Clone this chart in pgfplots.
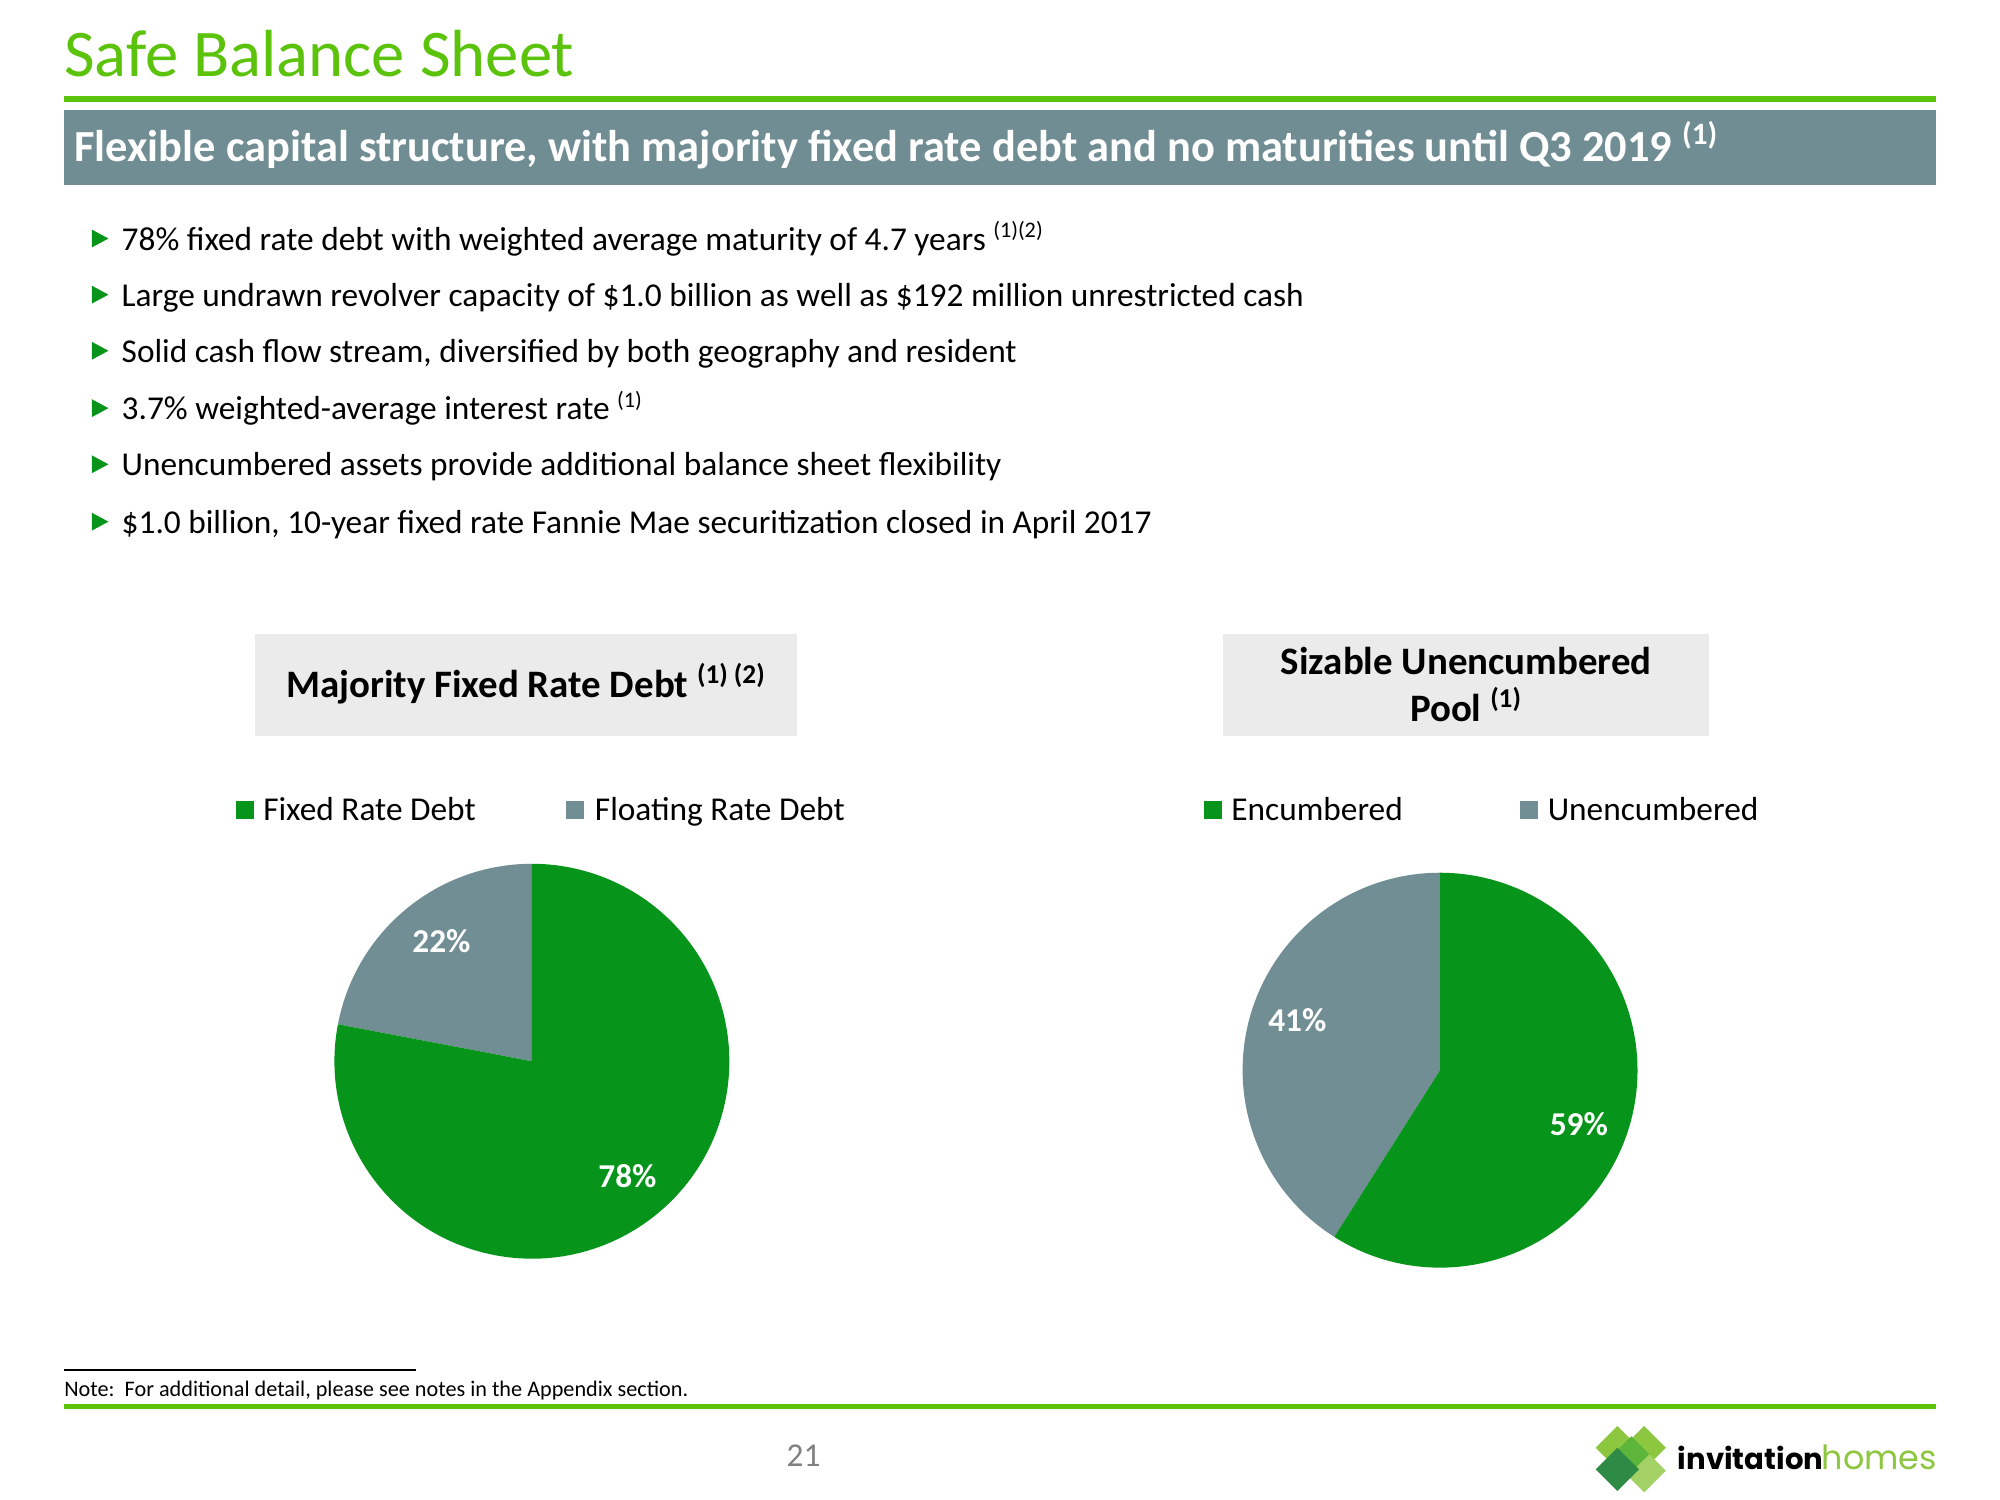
\documentclass[border=0pt]{standalone}
\usepackage{pgfplots}
\pgfplotsset{compat=1.18}
\usepackage{pgfplotstable}
\usepackage{fontspec}
\setmainfont{Carlito}
\newfontfamily\logofont{Poppins}
\definecolor{lime}{HTML}{5CC30C}
\definecolor{banner}{HTML}{708D93}
\definecolor{pgreen}{HTML}{06941A}
\definecolor{pgray}{HTML}{718E94}
\definecolor{boxgray}{HTML}{EBEBEB}
\definecolor{lgA}{HTML}{8DC63F}
\definecolor{lgB}{HTML}{5DB53A}
\definecolor{lgC}{HTML}{2E8B45}

\pgfplotstableread{
label value
Fixed 78
Floating 22
}\debt
\pgfplotstableread{
label value
Encumbered 59
Unencumbered 41
}\pool

% draw a two-slice pie: first slice green, second gray (gray starts at 12 o'clock, counter-clockwise)
\newcommand{\twopie}[1]{%
  \pgfplotstablegetelem{1}{value}\of#1\pgfmathsetmacro\gA{90+3.6*\pgfplotsretval}%
  \fill[pgray] (axis cs:0,0) -- (axis cs:0,1) arc[start angle=90, end angle=\gA, radius=71.08pt] -- cycle;
  \fill[pgreen] (axis cs:0,0) -- (axis cs:{cos(\gA)},{sin(\gA)}) arc[start angle=\gA, end angle=450, radius=71.08pt] -- cycle;
}

\begin{document}
\begin{tikzpicture}
\begin{scope}[x=0.459184pt,y=-0.459184pt]
\fill[white] (0,0) rectangle (1568,1176);
\path[use as bounding box] (0,0) rectangle (1568,1176);
% title
\node[anchor=base west, inner sep=0, text=lime, font=\fontsize{24}{28}\selectfont] at (50,60) {Safe Balance Sheet};
\fill[lime] (50,75) rectangle (1518,80);
\fill[banner] (50,86) rectangle (1518,145);
\node[anchor=base west, inner sep=0, text=white, font=\fontsize{16}{19}\selectfont\bfseries] at (58,127) {Flexible capital structure, with majority fixed rate debt and no maturities until Q3 2019 \textsuperscript{(1)}};
% bullets
\foreach \yy/\txt in {196/{78\% fixed rate debt with weighted average maturity of 4.7 years \textsuperscript{(1)(2)}},
  240/{Large undrawn revolver capacity of \$1.0 billion as well as \$192 million unrestricted cash},
  284/{Solid cash flow stream, diversified by both geography and resident},
  329/{3.7\% weighted-average interest rate \textsuperscript{(1)}},
  373/{Unencumbered assets provide additional balance sheet flexibility},
  418/{\$1.0 billion, 10-year fixed rate Fannie Mae securitization closed in April 2017}}{
  \fill[pgreen] (72,\yy-16) -- (85,\yy-9) -- (72,\yy-2) -- cycle;
  \node[anchor=base west, inner sep=0, font=\fontsize{12}{14}\selectfont] at (95,\yy) {\txt};
}
% chart title boxes
\fill[boxgray] (200,497) rectangle (625,577);
\node[anchor=base, inner sep=0, font=\fontsize{14}{17}\selectfont\bfseries] at (412.5,547) {Majority Fixed Rate Debt \textsuperscript{(1) (2)}};
\fill[boxgray] (959,497) rectangle (1340,577);
\node[anchor=base, inner sep=0, font=\fontsize{14}{17}\selectfont\bfseries] at (1149.5,529) {Sizable Unencumbered};
\node[anchor=base, inner sep=0, font=\fontsize{14}{17}\selectfont\bfseries] at (1149.5,566) {Pool \textsuperscript{(1)}};
% legends
\fill[pgreen] (185,628) rectangle (199,642);
\node[anchor=base west, inner sep=0, font=\fontsize{12}{14}\selectfont] at (206,643) {Fixed Rate Debt};
\fill[pgray] (444,628) rectangle (458,642);
\node[anchor=base west, inner sep=0, font=\fontsize{12}{14}\selectfont] at (466,643) {Floating Rate Debt};
\fill[pgreen] (944,628) rectangle (958,642);
\node[anchor=base west, inner sep=0, font=\fontsize{12}{14}\selectfont] at (965,643) {Encumbered};
\fill[pgray] (1192,628) rectangle (1206,642);
\node[anchor=base west, inner sep=0, font=\fontsize{12}{14}\selectfont] at (1213,643) {Unencumbered};
% footer
\draw[black, line width=0.5pt] (50,1074) -- (326,1074);
\node[anchor=base west, inner sep=0, font=\fontsize{8}{10}\selectfont] at (50,1095) {Note:\ \ For additional detail, please see notes in the Appendix section.};
\fill[lime] (50,1101) rectangle (1518,1105);
\node[anchor=base, inner sep=0, text=gray, font=\fontsize{12}{14}\selectfont] at (630,1150) {21};
% logo
\fill[lgA] (1268,1118) -- (1285,1135) -- (1268,1152) -- (1251,1135) -- cycle;
\fill[lgA] (1289,1118) -- (1306,1135) -- (1289,1152) -- (1272,1135) -- cycle;
\fill[lgA!80!white] (1289,1136) -- (1306,1153) -- (1289,1170) -- (1272,1153) -- cycle;
\fill[lgB] (1279,1126) -- (1293,1140) -- (1279,1154) -- (1265,1140) -- cycle;
\fill[lgC] (1268,1135) -- (1285,1152) -- (1268,1169) -- (1251,1152) -- cycle;
\node[anchor=base west, inner sep=0, font=\logofont\fontsize{10.5}{12}\selectfont\bfseries] at (1315,1152) {invitation};
\node[anchor=base east, inner sep=0, text=lgA, font=\logofont\fontsize{12}{14}\selectfont] at (1519,1152) {homes};
\end{scope}

% left pie
\begin{axis}[at={(191.48pt,-382.04pt)}, anchor=center, x=71.08pt, y=71.08pt,
  xmin=-1, xmax=1, ymin=-1, ymax=1, hide axis, clip=false, disabledatascaling]
\twopie{\debt}
\node[text=white, font=\fontsize{12}{14}\selectfont\bfseries] at (axis cs:0.484,-0.581) {78\%};
\node[text=white, font=\fontsize{12}{14}\selectfont\bfseries] at (axis cs:-0.458,0.606) {22\%};
\end{axis}
% right pie
\begin{axis}[at={(518.42pt,-385.26pt)}, anchor=center, x=71.08pt, y=71.08pt,
  xmin=-1, xmax=1, ymin=-1, ymax=1, hide axis, clip=false, disabledatascaling]
\twopie{\pool}
\node[text=white, font=\fontsize{12}{14}\selectfont\bfseries] at (axis cs:0.703,-0.271) {59\%};
\node[text=white, font=\fontsize{12}{14}\selectfont\bfseries] at (axis cs:-0.723,0.252) {41\%};
\end{axis}
\end{tikzpicture}
\end{document}
